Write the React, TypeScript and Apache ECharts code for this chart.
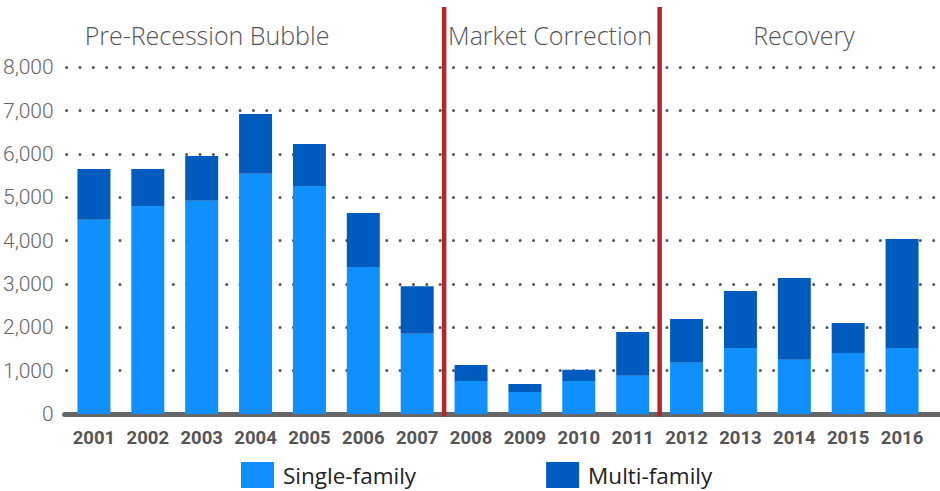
import React, { useEffect, useRef } from "react";
import * as echarts from "echarts";

const years = ["2001","2002","2003","2004","2005","2006","2007","2008","2009","2010","2011","2012","2013","2014","2015","2016"];
const singleFamily = [4480, 4800, 4920, 5540, 5260, 3390, 1850, 760, 510, 760, 880, 1180, 1520, 1250, 1410, 1520];
const multiFamily = [1170, 850, 1030, 1380, 970, 1250, 1100, 370, 180, 260, 1010, 1010, 1320, 1890, 690, 2520];
const periods = ["Pre-Recession Bubble", "Market Correction", "Recovery"];
// index of the last year of each period (before a divider)
const dividersAfter = [6, 10];
const yTicksMax = 8000;
const yTickStep = 1000;

const LIGHT = "#1090FF";
const DARK = "#005BBF";
const RED = "#B3262B";
const COND = "Roboto, sans-serif";
const SANS = "'Open Sans', Lato, sans-serif";

export default function App() {
  const ref = useRef<HTMLDivElement>(null);
  useEffect(() => {
    if (!ref.current) return;
    const chart = echarts.init(ref.current, null, { renderer: "svg" });
    const lineTop = 9390;
    const dividerSeries = dividersAfter.map((i, k) => ({
      name: "divider" + k,
      type: "line",
      xAxisIndex: 2,
      yAxisIndex: 1,
      symbol: "none",
      silent: true,
      z: 5,
      lineStyle: { color: RED, width: 4.5 },
      data: [
        [i + 1, -110],
        [i + 1, lineTop],
      ],
    }));
    const titleStyle = (text: string) => ({
      text, fill: "#555", font: `300 25px ${SANS}`, textAlign: "center", textVerticalAlign: "middle",
    });
    const option: any = {
      animation: false,
      grid: [
        { left: 64, right: 0, top: 67.3, bottom: 77 },
        { left: 67, right: 11, top: 7, bottom: 77 },
      ],
      xAxis: [
        {
          gridIndex: 0, type: "value", min: 0, max: 1, offset: 2,
          axisLine: { show: true, lineStyle: { color: "#666", width: 5 } },
          axisTick: { show: false }, axisLabel: { show: false }, splitLine: { show: false },
        },
        {
          gridIndex: 1, type: "category", data: years, position: "bottom",
          axisLine: { show: false }, axisTick: { show: false }, splitLine: { show: false },
          axisLabel: {
            margin: 14,
            color: "#555",
            fontFamily: COND,
            fontWeight: "bold",
            fontSize: 18.5,
            interval: 0,
          },
        },
        {
          gridIndex: 1, type: "value", position: "top", min: 0, max: years.length, show: false,
          splitLine: { show: false },
        },
      ],
      yAxis: [
        {
          gridIndex: 0, type: "value", min: 0, max: yTicksMax, interval: yTickStep,
          axisLine: { show: false }, axisTick: { show: false },
          axisLabel: {
            margin: 11, color: "#666", fontFamily: COND, fontWeight: 300, fontSize: 21,
            formatter: (v: number) => v.toLocaleString("en-US"),
          },
          splitLine: {
            show: true,
            lineStyle: { color: "#555", width: 3, type: [0.01, 13.33], cap: "round", dashOffset: -2.5 },
          },
        },
        {
          gridIndex: 1, type: "value", min: 0, max: lineTop, show: false,
          splitLine: { show: false },
        },
      ],
      legend: {
        data: ["Single-family", "Multi-family"],
        left: 241, top: 462, padding: 0,
        itemWidth: 33, itemHeight: 26, itemGap: 130,
        icon: "rect",
        textStyle: { fontSize: 22.5, lineHeight: 24, color: "#222", fontFamily: SANS, padding: [0, 0, 0, 4] },
      },
      graphic: [
        { type: "text", x: 207, y: 35, style: titleStyle(periods[0]) },
        { type: "text", x: 550, y: 35, style: titleStyle(periods[1]) },
        { type: "text", x: 804, y: 35, style: titleStyle(periods[2]) },
      ],
      series: [
        {
          name: "Single-family", type: "bar", stack: "total", xAxisIndex: 1, yAxisIndex: 1,
          barWidth: 33, itemStyle: { color: LIGHT },
          data: singleFamily,
        },
        {
          name: "Multi-family", type: "bar", stack: "total", xAxisIndex: 1, yAxisIndex: 1,
          barWidth: 33, itemStyle: { color: DARK },
          data: multiFamily,
        },
        ...dividerSeries,
      ],
    };
    chart.setOption(option);
    return () => chart.dispose();
  }, []);
  return <div ref={ref} style={{ position: "absolute", left: 0, top: 0, width: 940, height: 491 }} />;
}
